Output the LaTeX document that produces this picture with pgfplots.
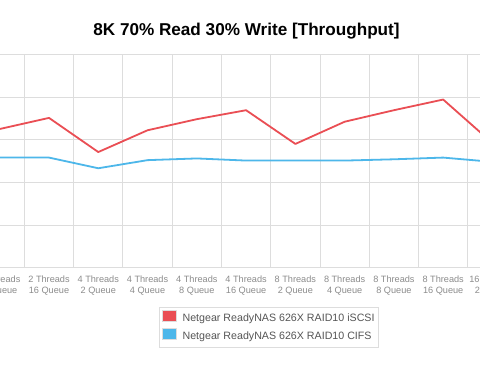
\documentclass[border=0pt]{standalone}
\usepackage{pgfplots}
\pgfplotsset{compat=1.18}
\usepackage{fontspec}
\setmainfont{Liberation Sans}
\definecolor{myred}{RGB}{234,78,84}
\definecolor{myblue}{RGB}{77,183,234}
\definecolor{gridgray}{RGB}{221,221,221}
\definecolor{labelgray}{RGB}{140,140,140}
\definecolor{legtext}{RGB}{85,85,85}
\begin{document}
\begin{tikzpicture}[x=1bp,y=1bp]
\useasboundingbox (0,0) rectangle (480,372);
\clip (0,0) rectangle (480,372);
\fill[white] (0,0) rectangle (480,372);
\begin{axis}[
  at={(-24.9bp,104.3bp)}, anchor=south west,
  scale only axis, width=541.97bp, height=213.4bp,
  xmin=-0.5, xmax=10.5, ymin=0, ymax=5,
  xtick={0,...,10},
  xticklabels={{2 Threads\\8 Queue},{2 Threads\\16 Queue},{4 Threads\\2 Queue},{4 Threads\\4 Queue},{4 Threads\\8 Queue},{4 Threads\\16 Queue},{8 Threads\\2 Queue},{8 Threads\\4 Queue},{8 Threads\\8 Queue},{8 Threads\\16 Queue},{16 Threads\\2 Queue}},
  minor xtick={-0.5,0.5,...,10.5},
  ytick={0,...,5}, yticklabels={},
  xmajorgrids=false, xminorgrids=true, ymajorgrids=true,
  grid style={gridgray, line width=0.9bp},
  minor grid style={gridgray, line width=0.9bp},
  major tick length=0pt, minor tick length=0pt,
  axis line style={draw=none},
  xticklabel style={font=\fontsize{9.2}{11}\selectfont, text=labelgray, align=center, yshift=-4.5bp},
  legend style={at={(0.3402,-0.1856)}, anchor=north west, draw=gridgray, line width=0.8bp,
    font=\fontsize{10.7}{13}\selectfont, text=legtext, inner xsep=2bp, inner ysep=2bp,
    row sep=0.5bp, nodes={inner xsep=2bp, inner ysep=3bp, text height=8bp, text depth=2.5bp}},
  legend cell align=left,
]
\addplot[myred, line width=1.8bp, line join=round,
  legend image code/.code={\draw[fill=myred, draw=gridgray, line width=0.6bp] (0bp,-2.6bp) rectangle (14bp,9bp); \path (17.5bp,0bp);}]
  coordinates {(0,3.25) (1,3.51) (2,2.71) (3,3.22) (4,3.48) (5,3.69) (6,2.90) (7,3.42) (8,3.69) (9,3.94) (10,2.92)};
\addlegendentry{Netgear ReadyNAS 626X RAID10 iSCSI}
\addplot[myblue, line width=1.8bp, line join=round,
  legend image code/.code={\draw[fill=myblue, draw=gridgray, line width=0.6bp] (0bp,-2.6bp) rectangle (14bp,9bp); \path (17.5bp,0bp);}]
  coordinates {(0,2.58) (1,2.58) (2,2.33) (3,2.52) (4,2.56) (5,2.51) (6,2.51) (7,2.51) (8,2.54) (9,2.58) (10,2.48)};
\addlegendentry{Netgear ReadyNAS 626X RAID10 CIFS}
\end{axis}
\node[anchor=base, font=\bfseries\fontsize{17.2}{20}\selectfont, inner sep=0pt] at (246.5,337) {8K 70\% Read 30\% Write [Throughput]};
\end{tikzpicture}
\end{document}
